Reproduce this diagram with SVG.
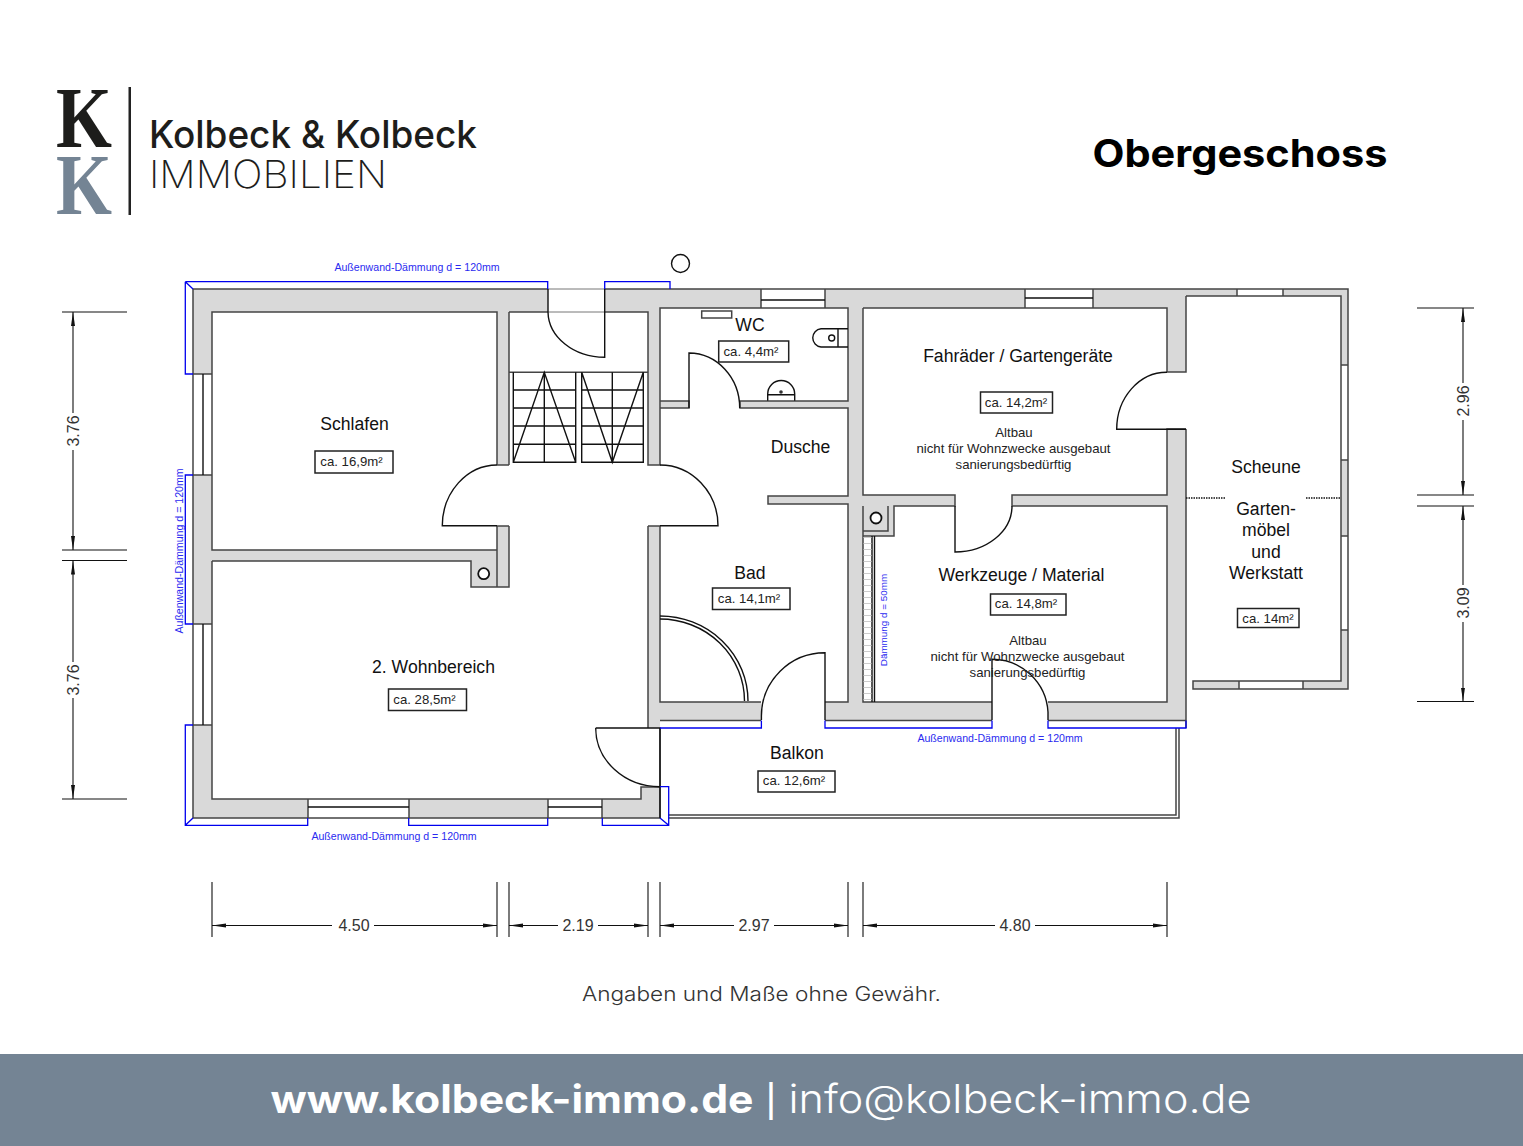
<svg xmlns="http://www.w3.org/2000/svg" width="1523" height="1146" viewBox="0 0 1523 1146">
<defs>
<marker id="ah" markerUnits="userSpaceOnUse" markerWidth="16" markerHeight="8" refX="14" refY="4" orient="auto-start-reverse"><path d="M0,2 L14,4 L0,6 z" fill="#111"/></marker>
</defs>
<style>
text{font-family:"Liberation Sans",Arial,sans-serif;text-anchor:middle;fill:#111}
.w{fill:#d9d9d9}
.l{fill:none;stroke:#444;stroke-width:1.5}
.k{fill:none;stroke:#111;stroke-width:1.4}
.g{fill:none;stroke:#777;stroke-width:1}
.b{fill:none;stroke:#0000ee;stroke-width:1.3}
.bt{fill:#2a2af0;font-size:10.6px}
.r{font-size:17.6px}
.a{fill:#fff;stroke:#222;stroke-width:1.5}
.at{font-size:13.2px;fill:#222}
.n{font-size:13.2px;fill:#222}
.d{font-size:16px;fill:#333}
.dl{fill:none;stroke:#111;stroke-width:1.1}
.da{fill:none;stroke:#111;stroke-width:1.1;marker-end:url(#ah)}
</style>
<rect width="1523" height="1146" fill="#fff"/>

<g id="logo">
<text x="84" y="147" font-size="86" font-weight="700" textLength="56" lengthAdjust="spacingAndGlyphs" style="font-family:'Liberation Serif',serif;fill:#1d1d1b">K</text>
<text x="84" y="214" font-size="86" font-weight="700" textLength="56" lengthAdjust="spacingAndGlyphs" style="font-family:'Liberation Serif',serif;fill:#748494">K</text>
<rect x="128.500" y="87" width="2.500" height="128" fill="#222"/>
<text x="313" y="148" font-size="38" font-weight="500" textLength="328" lengthAdjust="spacingAndGlyphs" style="font-family:Inter,sans-serif;fill:#1d1d1b">Kolbeck &amp; Kolbeck</text>
<text x="268" y="188" font-size="38.500" font-weight="200" textLength="238" lengthAdjust="spacingAndGlyphs" style="font-family:Inter,sans-serif;fill:#1d1d1b">IMMOBILIEN</text>
</g>
<text id="title" x="1240" y="167" font-size="38" font-weight="700" textLength="295" lengthAdjust="spacingAndGlyphs" style="font-family:Inter,sans-serif;fill:#000">Obergeschoss</text>

<g id="walls">
<rect class="w" x="193" y="289" width="355" height="23"/>
<rect class="w" x="605" y="289" width="156" height="19"/>
<rect class="w" x="605" y="289" width="43" height="23"/>
<rect class="w" x="825" y="289" width="200" height="19"/>
<rect class="w" x="1093" y="289" width="93" height="19"/>
<rect class="w" x="193" y="289" width="19" height="85"/>
<rect class="w" x="193" y="475" width="19" height="149"/>
<rect class="w" x="193" y="725" width="19" height="93"/>
<rect class="w" x="212" y="550" width="285" height="11"/>
<rect class="w" x="497" y="312" width="12" height="153"/>
<rect class="w" x="497" y="526" width="12" height="61"/>
<rect class="w" x="471" y="561" width="26" height="26"/>
<rect class="w" x="648" y="308" width="12" height="157"/>
<rect class="w" x="648" y="526" width="12" height="202"/>
<rect class="w" x="648" y="702" width="113" height="18.500"/>
<rect class="w" x="825" y="702" width="167" height="18.500"/>
<rect class="w" x="1048" y="702" width="138" height="18.500"/>
<rect class="w" x="212" y="799" width="96" height="19"/>
<rect class="w" x="409" y="799" width="139" height="19"/>
<rect class="w" x="602" y="799" width="39" height="19"/>
<rect class="w" x="641" y="787" width="19" height="31"/>
<rect class="w" x="660" y="401" width="29" height="7"/>
<rect class="w" x="740" y="401" width="108" height="7"/>
<rect class="w" x="768" y="496" width="80" height="8"/>
<rect class="w" x="848" y="289" width="15" height="431"/>
<rect class="w" x="863" y="495" width="92" height="11"/>
<rect class="w" x="1012" y="495" width="155" height="11"/>
<rect class="w" x="863" y="506" width="31" height="30"/>
<rect class="w" x="1167" y="289" width="19" height="83"/>
<rect class="w" x="1167" y="429" width="19" height="291"/>
<rect class="w" x="1186" y="289" width="51" height="7"/>
<rect class="w" x="1283" y="289" width="65" height="7"/>
<rect class="w" x="1341" y="289" width="7" height="76"/>
<rect class="w" x="1341" y="460" width="7" height="76"/>
<rect class="w" x="1341" y="630" width="7" height="59"/>
<rect class="w" x="1193" y="681" width="46" height="8"/>
<rect class="w" x="1303" y="681" width="45" height="8"/>
<path class="l" d="M193,289 H548 M605,289 H1348 V689 H1193 V681 H1341 V296 H1186 M193,289 V818 H660 V728 M212,374 H193 M212,475 H193 M212,624 H193 M212,725 H193 M497,526 V550 H212 V312 H497 V465 M212,561 V799 H641 V787 H660 M212,561 H471 V587 H509 V526 M497,561 V587 M497,550 V561 M509,312 V465 M497,465 H509 M497,526 H509 M509,312 H548 M605,312 H648 V465 H660 V308 H848 V401 H740 V408 H848 V496 H768 V504 H848 V702 H825 M648,526 H660 V702 H761 M648,526 V728 M660,720.500 H761 M825,720.500 H992 M1048,720.500 H1186 M863,308 H1167 V372 H1186 V296 M1186,429 H1167 V495 H1012 V506 H1167 V702 H1048 M1186,429 V728 M863,308 V495 H955 V506 H894 V536 H863 M863,506 V702 H992 M888,506 V531 H863 M660,401 H689 V408 H660 M308,799 V818 M409,799 V818 M548,799 V818 M602,799 V818 M1341,365 H1348 M1341,460 H1348 M1341,536 H1348 M1341,630 H1348 M1237,289 V296 M1283,289 V296 M1239,681 V689 M1303,681 V689 M761,289 V308 M825,289 V308 M1025,289 V308 M1093,289 V308"/>
</g>

<g id="windows">
<path class="k" d="M203,374 V475 M203,624 V725 M308,807 H409 M548,807 H602 M761,300 H825 M1025,298 H1093"/>
</g>

<g id="stairs">
<path class="l" d="M509,372.300 H648"/>
<path class="k" d="M513.300,372.300 V462.300 H575.700 V372.300 M581.700,372.300 V462.300 H643.300 V372.300 M513.300,390 H575.700 M513.300,408 H575.700 M513.300,426 H575.700 M513.300,444.300 H575.700 M581.700,390 H643.300 M581.700,408 H643.300 M581.700,426 H643.300 M581.700,444.300 H643.300 M544.300,372.300 V462.300 M612.300,372.300 V462.300 M513.300,462.300 L544.300,372.300 L575.700,462.300 M581.700,372.300 L612.300,462.300 L643.300,372.300"/>
</g>

<g id="doors">
<path class="g" d="M548,289 H605 M548,312 H605"/>
<path class="k" d="M548,289 V312 A57,46 0 0 0 604.700,357.300 V289"/>
<path class="k" d="M497,465 A55,61 0 0 0 442.300,525.700 H497"/>
<path class="k" d="M660,465 A58,61 0 0 1 718,525.700 H660"/>
<path class="k" d="M689,408 V353 A51,55 0 0 1 739.700,408"/>
<path class="k" d="M660,616 A88,85 0 0 1 748,701 M660,619 A84.500,82 0 0 1 744.500,701"/>
<path class="k" d="M761.400,720 V716 A63.500,63.500 0 0 1 825,652.700 V720"/>
<path class="k" d="M992,720 V659.300 A56,56 0 0 1 1048,712 V720"/>
<path class="k" d="M955,506 V552 A57,46 0 0 0 1012,506"/>
<path class="k" d="M1167,372.300 A50,57 0 0 0 1116.700,429.300 H1186"/>
<path class="k" d="M595.700,728 H660 V818 M595.700,728 A64.300,58.700 0 0 0 660,786.700"/>
</g>

<g id="balcony">
<path class="l" d="M668,815 H1176 V728 M668,818 H1179 V728"/>
</g>

<g id="fixtures">
<rect class="l" x="701.700" y="311" width="30" height="7"/>
<path class="k" d="M848,328.700 H821 A9.200,9.200 0 0 0 821,347 H848 M838,328.700 V347"/>
<circle class="k" cx="831.700" cy="338" r="3"/>
<path class="k" d="M767.700,400.700 V394 A13.500,13.500 0 0 1 794.700,394 V400.700 M767.700,394.700 H794.700"/>
<circle cx="781" cy="392" r="1.800" fill="#333"/>
<circle class="k" cx="483.700" cy="573.700" r="5.500" style="fill:#fff;stroke-width:1.800"/>
<circle class="k" cx="876" cy="518" r="5.500" style="fill:#fff;stroke-width:1.800"/>
<path class="k" d="M872,536 V702 M874.500,536 V702"/>
<path d="M867.500,537 V701" fill="none" stroke="#ccc" stroke-width="8" stroke-dasharray="1 5"/>
<path class="k" d="M1186,498 H1226 M1306,498 H1341" style="stroke-dasharray:1.500 1"/>
<circle class="k" cx="680.500" cy="263.500" r="9"/>
</g>

<g id="insulation">
<path class="b" d="M185.300,281.700 H547.700 V289 M185.300,281.700 V374 H193 M185.300,281.700 L193,289 M604.700,289 V281.700 H670 V289 M193,475 H185.300 V624 H193 M193,725 H185.300 V825.300 H307.700 V818 M185.300,825.300 L193,818 M408.700,818 V825.300 H547.700 V818 M602.300,818 V825.300 H668.700 V786.700 H660 M668.700,825.300 L660,818 M660,728 H761.400 V720.500 M825,720.500 V728 H992 V720.500 M1048,720.500 V728 H1186 V720.500"/>
<text class="bt" x="417" y="271">Außenwand-Dämmung d = 120mm</text>
<text class="bt" x="394" y="840">Außenwand-Dämmung d = 120mm</text>
<text class="bt" x="1000" y="742">Außenwand-Dämmung d = 120mm</text>
<text class="bt" transform="translate(183,551) rotate(-90)">Außenwand-Dämmung d = 120mm</text>
<text class="bt" style="font-size:9.900px" transform="translate(887,620) rotate(-90)">Dämmung d = 50mm</text>
</g>

<g id="schlafen"><text class="r" x="354.500" y="430">Schlafen</text><rect class="a" x="315" y="451" width="78" height="22"/><text class="at" x="351.500" y="466">ca. 16,9m²</text></g>
<g id="wohnbereich"><text class="r" x="433.500" y="673">2. Wohnbereich</text><rect class="a" x="388.500" y="689" width="78" height="21.500"/><text class="at" x="424.500" y="704">ca. 28,5m²</text></g>
<g id="wc"><text class="r" x="750" y="331">WC</text><rect class="a" x="718.700" y="341" width="70" height="21"/><text class="at" x="751" y="356">ca. 4,4m²</text></g>
<g id="dusche"><text class="r" x="800.500" y="453">Dusche</text></g>
<g id="bad"><text class="r" x="750" y="579">Bad</text><rect class="a" x="712.500" y="588" width="77.500" height="21.500"/><text class="at" x="749" y="603">ca. 14,1m²</text></g>
<g id="fahrraeder"><text class="r" x="1018" y="361.500">Fahräder / Gartengeräte</text><rect class="a" x="980.500" y="392" width="72" height="21"/><text class="at" x="1016" y="407">ca. 14,2m²</text><text class="n" x="1014" y="437">Altbau</text><text class="n" x="1013.500" y="453">nicht für Wohnzwecke ausgebaut</text><text class="n" x="1013.500" y="469">sanierungsbedürftig</text></g>
<g id="werkzeuge"><text class="r" x="1021.500" y="580.500">Werkzeuge / Material</text><rect class="a" x="990.500" y="594" width="75.500" height="21"/><text class="at" x="1026" y="608">ca. 14,8m²</text><text class="n" x="1028" y="645">Altbau</text><text class="n" x="1027.500" y="661">nicht für Wohnzwecke ausgebaut</text><text class="n" x="1027.500" y="677">sanierungsbedürftig</text></g>
<g id="balkon"><text class="r" x="797" y="758.500">Balkon</text><rect class="a" x="758" y="771" width="77" height="21"/><text class="at" x="794" y="785">ca. 12,6m²</text></g>
<g id="scheune"><text class="r" x="1266" y="472.500">Scheune</text><text class="r" x="1266" y="514.500">Garten-</text><text class="r" x="1266" y="536">möbel</text><text class="r" x="1266" y="558">und</text><text class="r" x="1266" y="578.500">Werkstatt</text><rect class="a" x="1237.500" y="608.500" width="61.500" height="19"/><text class="at" x="1268" y="623">ca. 14m²</text></g>

<g id="dimensions">
<path class="dl" d="M62,312 H127 M62,550 H127 M62,560.500 H127 M62,799 H127 M1417,308 H1474 M1417,495 H1474 M1417,506 H1474 M1417,701.500 H1474 M212,882 V937 M497,882 V937 M509,882 V937 M648,882 V937 M660,882 V937 M848,882 V937 M863,882 V937 M1167,882 V937"/>
<path class="da" d="M73,413 V312"/><path class="da" d="M73,450 V550"/>
<path class="da" d="M73,662 V560.500"/><path class="da" d="M73,698 V799"/>
<path class="da" d="M1463,383 V308"/><path class="da" d="M1463,420 V495"/>
<path class="da" d="M1463,585 V506"/><path class="da" d="M1463,622 V701.500"/>
<path class="da" d="M332,925.500 H212"/><path class="da" d="M374,925.500 H497"/>
<path class="da" d="M558,925.500 H509"/><path class="da" d="M598,925.500 H648"/>
<path class="da" d="M734,925.500 H660"/><path class="da" d="M774,925.500 H848"/>
<path class="da" d="M995,925.500 H863"/><path class="da" d="M1035,925.500 H1167"/>
<text class="d" transform="translate(79,431) rotate(-90)">3.76</text>
<text class="d" transform="translate(79,680) rotate(-90)">3.76</text>
<text class="d" transform="translate(1469,401) rotate(-90)">2.96</text>
<text class="d" transform="translate(1469,603) rotate(-90)">3.09</text>
<text class="d" x="354" y="931">4.50</text>
<text class="d" x="578" y="931">2.19</text>
<text class="d" x="754" y="931">2.97</text>
<text class="d" x="1015" y="931">4.80</text>
</g>

<text id="note" x="761.500" y="1001" font-size="20" font-weight="300" textLength="359" lengthAdjust="spacingAndGlyphs" style="font-family:Inter,sans-serif;fill:#333">Angaben und Maße ohne Gewähr.</text>

<g id="footer">
<rect x="0" y="1054" width="1523" height="92" fill="#748494"/>
<text x="512" y="1113" font-size="39" font-weight="700" textLength="483" lengthAdjust="spacingAndGlyphs" style="font-family:Inter,sans-serif;fill:#fff">www.kolbeck-immo.de</text>
<text x="771" y="1112" font-size="40" style="font-family:'Liberation Sans',sans-serif;fill:#fff">|</text>
<text x="1020" y="1113" font-size="39" font-weight="300" textLength="463" lengthAdjust="spacingAndGlyphs" style="font-family:Inter,sans-serif;fill:#fff">info@kolbeck-immo.de</text>
</g>
</svg>
